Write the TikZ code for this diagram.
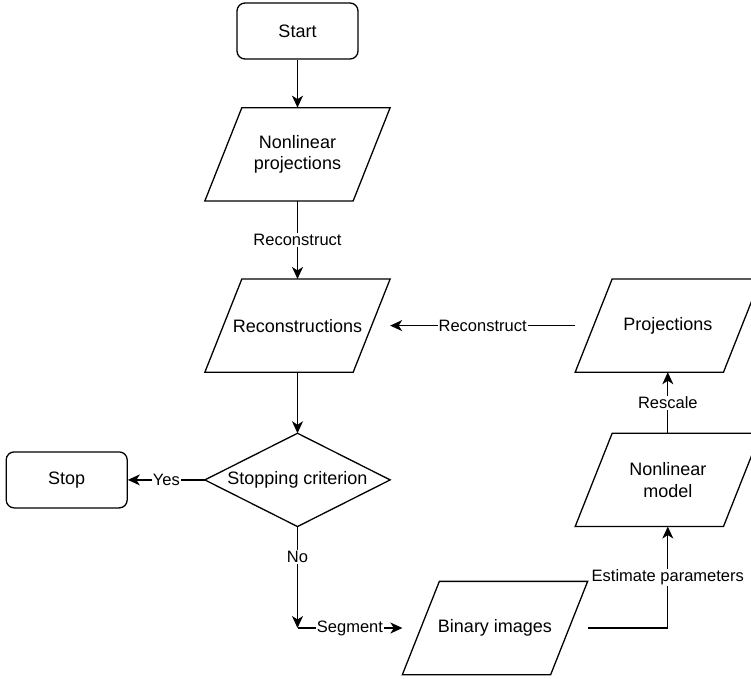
\documentclass[tikz,border=0pt]{standalone}
\usepackage{fontspec}
\setmainfont{Liberation Sans}
\usetikzlibrary{positioning,arrows.meta}

\begin{document}
\begin{tikzpicture}[x=1pt,y=1pt,line width=1.3pt,node distance=61pt,
        flow/.style={draw,-{Stealth[length=12pt,width=11pt,inset=3.5pt]}},
        every edge/.style={flow},
        term/.style={draw,rounded corners=8pt,minimum width=121pt,minimum height=56pt,
          font=\fontsize{18}{21.6}\selectfont},
        io/.style={minimum width=184pt,minimum height=92pt,inner sep=0pt,align=center,
          font=\fontsize{18}{21.6}\selectfont},
        decision/.style={minimum width=184pt,minimum height=92pt,inner sep=0pt,
          font=\fontsize{18}{21.6}\selectfont},
        lbl/.style={fill=white,inner sep=1pt,font=\fontsize{16.5}{19.8}\selectfont}]

  \useasboundingbox (0,0) rectangle (751,-678);

  \node[term] (start) at (297.5,-31) {Start};
  \node[io] (nlproj) [below=48pt of start] {Nonlinear\\projections};
  \node[io] (recon) [below=78pt of nlproj] {Reconstructions};
  \node[decision] (crit) [below=of recon] {Stopping criterion};
  \node[term] (stop) [left=77pt of crit] {Stop};
  \node[io] (proj) [right=185pt of recon] {Projections};
  \node[io] (model) [below=of proj] {Nonlinear\\model};
  \node[io] (bin) at (495,-628) {Binary images};
  \coordinate (turn) at (crit.south |- bin.west);

  % outlines of the data boxes and the decision
  \foreach \n in {nlproj,recon,proj,model,bin}
    \draw ([xshift=37pt]\n.north west) -- (\n.north east)
      -- ([xshift=-37pt]\n.south east) -- (\n.south west) -- cycle;
  \draw (crit.north) -- (crit.east) -- (crit.south) -- (crit.west) -- cycle;

  \path (start) edge (nlproj)
        (nlproj) edge node[lbl] {Reconstruct} (recon)
        (recon) edge (crit)
        (crit) edge node[lbl] {Yes} (stop)
        (crit) edge node[lbl,pos=0.3] {No} (turn)
        (turn) edge node[lbl] {Segment} (bin)
        (model) edge node[lbl] {Rescale} (proj)
        (proj) edge node[lbl] {Reconstruct} (recon);
  \draw[flow] (bin) -| node[lbl,pos=0.75] {Estimate parameters} (model);

\end{tikzpicture}
\end{document}
